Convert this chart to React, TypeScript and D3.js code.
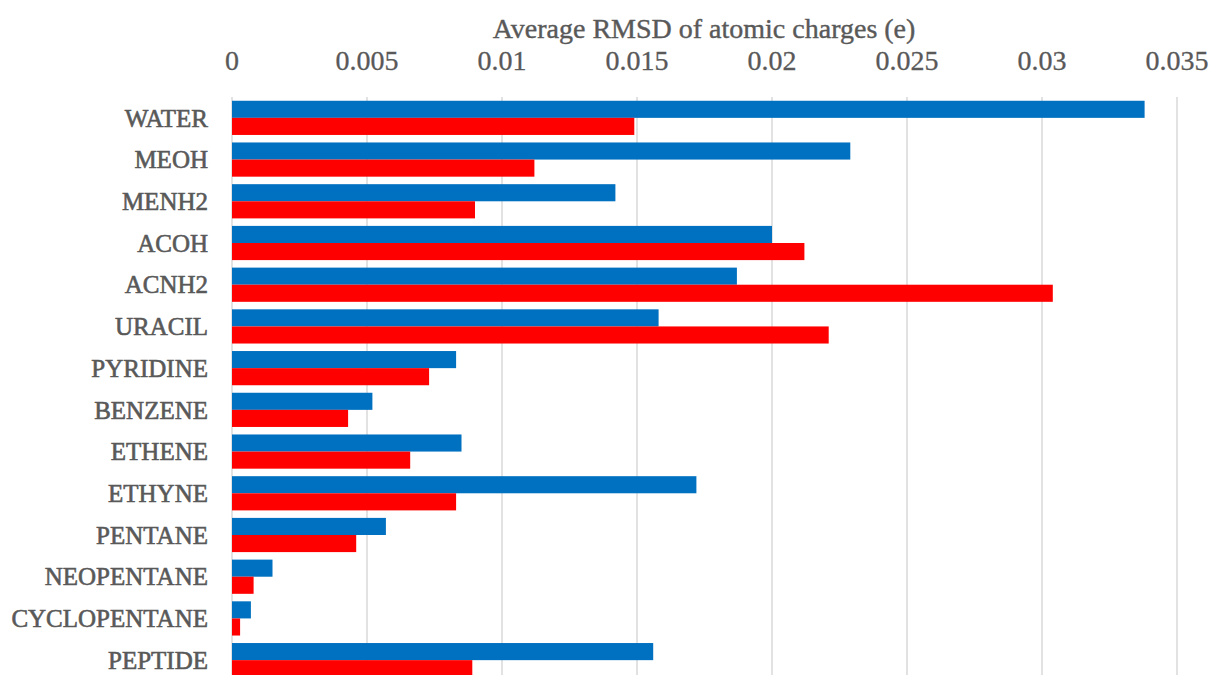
import React from "react";
import * as d3 from "d3";

const categories = ["WATER","MEOH","MENH2","ACOH","ACNH2","URACIL","PYRIDINE","BENZENE","ETHENE","ETHYNE","PENTANE","NEOPENTANE","CYCLOPENTANE","PEPTIDE"];
const blueValues = [0.0338,0.0229,0.0142,0.0200,0.0187,0.0158,0.0083,0.0052,0.0085,0.0172,0.0057,0.0015,0.0007,0.0156];
const redValues = [0.0149,0.0112,0.0090,0.0212,0.0304,0.0221,0.0073,0.0043,0.0066,0.0083,0.0046,0.0008,0.0003,0.0089];
const tickValues = [0,0.005,0.01,0.015,0.02,0.025,0.03,0.035];
const tickLabels = ["0","0.005","0.01","0.015","0.02","0.025","0.03","0.035"];
const axisTitle = "Average RMSD of atomic charges (e)";

export default function App() {
  const W = 1216, H = 675;
  const x = d3.scaleLinear().domain([0, 0.035]).range([232, 1177]);
  const y = d3.scaleBand<string>().domain(categories).range([97, 681]).paddingInner(0.18).paddingOuter(0.09);
  const bw = y.bandwidth() / 2;
  const font = "'Liberation Serif', 'DejaVu Serif', serif";
  const textColor = "#595959";
  return (
    <svg width={W} height={H} style={{ position: "absolute", left: 0, top: 0, background: "#fff" }}>
      <text x={704} y={38} textAnchor="middle" fontFamily={font} fontSize={28} fill={textColor} stroke={textColor} strokeWidth={0.4}>{axisTitle}</text>
      {tickValues.map((t, i) => (
        <g key={i}>
          <line x1={x(t)} x2={x(t)} y1={97} y2={H} stroke="#d9d9d9" strokeWidth={1.5} />
          <text x={x(t)} y={70} textAnchor="middle" fontFamily={font} fontSize={28} fill={textColor} stroke={textColor} strokeWidth={0.3}>{tickLabels[i]}</text>
        </g>
      ))}
      {categories.map((c, i) => {
        const y0 = y(c)!;
        return (
          <g key={c}>
            <rect x={x(0)} y={y0} width={x(blueValues[i]) - x(0)} height={bw} fill="#0070C0" />
            <rect x={x(0)} y={y0 + bw} width={x(redValues[i]) - x(0)} height={bw} fill="#FF0000" />
            <text x={208} y={y0 + bw} dy="0.35em" textAnchor="end" fontFamily={font} fontSize={25} fill={textColor} stroke={textColor} strokeWidth={0.6}>{c}</text>
          </g>
        );
      })}
    </svg>
  );
}
